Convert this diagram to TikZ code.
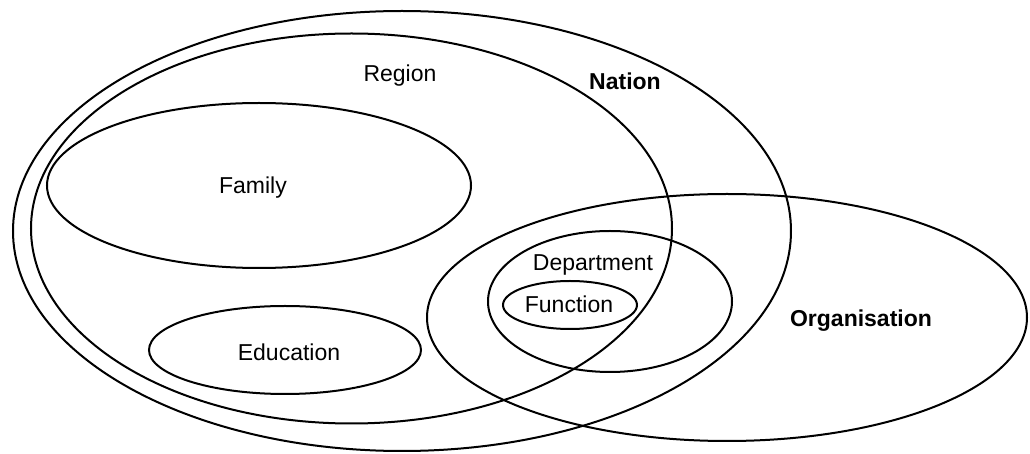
\documentclass[tikz,border=0pt]{standalone}
\usepackage{fontspec}
\setmainfont{Liberation Sans}
\begin{document}
\begin{tikzpicture}[x=0.5pt,y=-0.5pt,
  setline/.style={line width=1pt},
  lbl/.style={font=\fontsize{11.5}{13}\selectfont, inner sep=0pt, anchor=base},
  blbl/.style={lbl, font=\fontsize{11.5}{13}\selectfont\bfseries}]
\useasboundingbox (0,0) rectangle (1030,454);

% centres of the sets
\coordinate (nationC) at (402,231);
\coordinate (regionC) at (351.5,228.5);
\coordinate (familyC) at (259,185.5);
\coordinate (educationC) at (285,350);
\coordinate (orgC) at (727,317.5);
\coordinate (deptC) at (610,301.5);
\coordinate (funcC) at (570,305);

% set outlines
\draw[setline] (nationC) ellipse [x radius=389, y radius=220];
\draw[setline] (regionC) ellipse [x radius=320.5, y radius=195];
\draw[setline] (familyC) ellipse [x radius=212, y radius=82.5];
\draw[setline] (educationC) ellipse [x radius=136, y radius=44];
\draw[setline] (orgC) ellipse [x radius=300, y radius=123.5];
\draw[setline] (deptC) ellipse [x radius=122, y radius=70.5];
\draw[setline] (funcC) ellipse [x radius=67, y radius=24];

% labels
\node[lbl]  (region)    at (400,82)  {Region};
\node[blbl] (nation)    at (625,90)  {Nation};
\node[lbl]  (family)    at (253,194) {Family};
\node[lbl]  (education) at (289,361) {Education};
\node[lbl]  (dept)      at (593,271) {Department};
\node[lbl]  (func)      at (569,313) {Function};
\node[blbl] (org)       at (861,327) {Organisation};
\end{tikzpicture}
\end{document}
